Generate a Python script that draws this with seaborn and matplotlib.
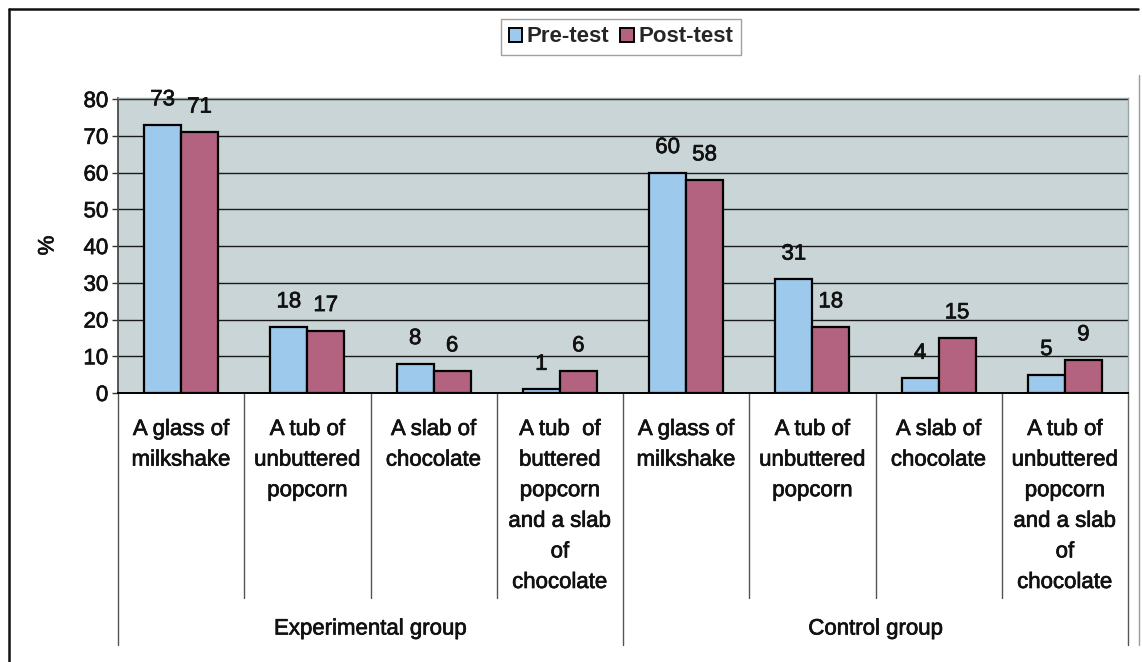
import matplotlib
matplotlib.use("Agg")
import matplotlib.pyplot as plt
import matplotlib.transforms as mtransforms
import matplotlib.patheffects as pe
from matplotlib.lines import Line2D
from matplotlib.patches import Patch
import seaborn as sns
import pandas as pd

# --- data -------------------------------------------------------------
groups = ["Experimental group", "Control group"]
items = [
    "A glass of\nmilkshake",
    "A tub of\nunbuttered\npopcorn",
    "A slab of\nchocolate",
    "A tub  of\nbuttered\npopcorn\nand a slab\nof\nchocolate",
    "A glass of\nmilkshake",
    "A tub of\nunbuttered\npopcorn",
    "A slab of\nchocolate",
    "A tub of\nunbuttered\npopcorn\nand a slab\nof\nchocolate",
]
item_group = [0, 0, 0, 0, 1, 1, 1, 1]
pre_test = [73, 18, 8, 1, 60, 31, 4, 5]
post_test = [71, 17, 6, 6, 58, 18, 15, 9]
series = ["Pre-test", "Post-test"]
y_ticks = [0, 10, 20, 30, 40, 50, 60, 70, 80]

keys = [f"c{i}" for i in range(len(items))]
df = pd.DataFrame({
    "key": keys * 2,
    "series": [series[0]] * len(keys) + [series[1]] * len(keys),
    "value": pre_test + post_test,
})

# --- style ------------------------------------------------------------
sns.set_theme(style="white")
plt.rcParams["font.family"] = ["Liberation Sans", "DejaVu Sans"]

blue = "#9CC9EC"
maroon = "#B3627F"
plot_bg = "#C9D5D6"
ink = "#111111"
FS = 16
heavy = [pe.withStroke(linewidth=0.5, foreground=ink)]

fig = plt.figure(figsize=(11.42, 6.62), dpi=100)
W, H = 1142, 662
ax = fig.add_axes([118 / W, 1 - 393 / H, (1128 - 118) / W, (393 - 98) / H])
ax.set_facecolor(plot_bg)

sns.barplot(
    data=df, x="key", y="value", hue="series", order=keys, hue_order=series,
    palette=[blue, maroon], width=0.585, edgecolor="black", linewidth=1.6,
    saturation=1, legend=False, ax=ax, zorder=3,
)

ax.set_ylim(0, 80.3)
ax.set_xlim(-0.5, len(keys) - 0.5)
ax.set_yticks(y_ticks)
ax.set_yticklabels([str(t) for t in y_ticks], fontsize=FS, color=ink)
for t in ax.get_yticklabels():
    t.set_path_effects(heavy)
ax.yaxis.grid(True, color="#1a1a1a", linewidth=1.0, zorder=1)
ax.set_axisbelow(True)
ax.tick_params(axis="y", length=4, width=1, color="#333333", pad=3, left=True)
ax.tick_params(axis="x", bottom=False, labelbottom=False)
ax.set_xlabel("")
ax.set_ylabel("%", fontsize=FS, labelpad=18, color=ink, path_effects=heavy)

for side in ["top", "right"]:
    ax.spines[side].set_color("#9aa3a3")
    ax.spines[side].set_linewidth(1.0)
ax.spines["left"].set_color("#444444")
ax.spines["bottom"].set_color("black")
ax.spines["bottom"].set_linewidth(1.4)

# value labels above each bar
for container, vals in zip(ax.containers, [pre_test, post_test]):
    for bar, v in zip(container, vals):
        ax.annotate(
            str(v), xy=(bar.get_x() + bar.get_width() / 2, bar.get_height()),
            xytext=(0, 25), textcoords="offset pixels",
            ha="center", va="center", fontsize=FS, color=ink,
            path_effects=heavy,
        )

# category labels and separators under the axis
blend = mtransforms.blended_transform_factory(ax.transData, ax.transAxes)
ax_h_px = 393 - 98
def frac(py):
    return -(py - 393) / ax_h_px

for i, label in enumerate(items):
    ax.text(i, frac(419), label, transform=blend, ha="center", va="top",
            fontsize=FS, linespacing=1.6, color=ink, path_effects=heavy)

n = len(items)
for b in range(n + 1):
    xb = b - 0.5
    is_group_edge = b in (0, 4, n)
    bottom = frac(645) if is_group_edge else frac(598)
    ax.add_line(Line2D([xb, xb], [0, bottom], transform=blend, color="#555555",
                       linewidth=1.0, clip_on=False))

for g, name in enumerate(groups):
    idx = [i for i, gg in enumerate(item_group) if gg == g]
    xc = (idx[0] + idx[-1]) / 2
    ax.text(xc, frac(629), name, transform=blend, ha="center", va="center",
            fontsize=FS, color=ink, path_effects=heavy)

# legend
handles = [Patch(facecolor=blue, edgecolor="black", linewidth=1.4, label=series[0]),
           Patch(facecolor=maroon, edgecolor="black", linewidth=1.4, label=series[1])]
leg = fig.legend(handles=handles, loc="center", bbox_to_anchor=(621 / W, 1 - 37 / H),
                 ncol=2, frameon=True, fancybox=False,
                 prop={"weight": "bold", "size": 16},
                 handlelength=0.6, handleheight=0.6, handletextpad=0.2,
                 columnspacing=0.5, borderpad=0.35)
leg.get_frame().set_edgecolor("#888888")
leg.get_frame().set_linewidth(1.0)

# outer chart frame
fig.add_artist(Line2D([9 / W, 9 / W], [0, 1 - 9 / H], transform=fig.transFigure,
                      color="#111111", linewidth=1.8))
fig.add_artist(Line2D([9 / W, 1138 / W], [1 - 9 / H, 1 - 9 / H], transform=fig.transFigure,
                      color="#111111", linewidth=1.8))
fig.add_artist(Line2D([1139 / W, 1139 / W], [1 - 75 / H, 1 - 645 / H], transform=fig.transFigure,
                      color="#9a9a9a", linewidth=1.0))

fig.savefig("out.png", dpi=100)
